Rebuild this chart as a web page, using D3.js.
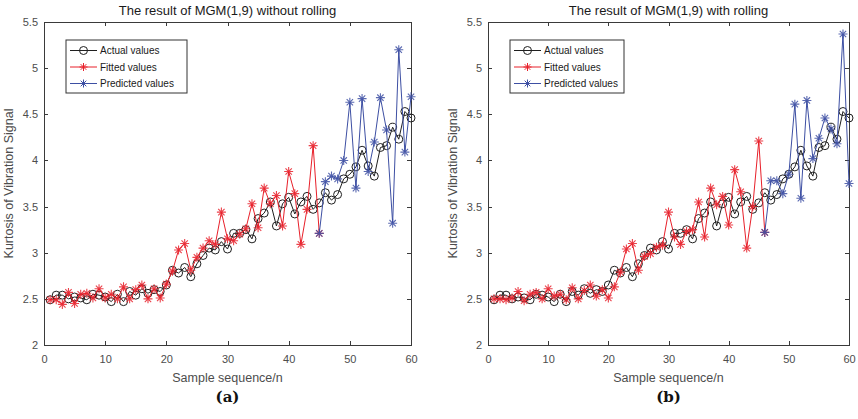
<!DOCTYPE html>
<html>
<head>
<meta charset="utf-8">
<script src="https://cdn.jsdelivr.net/npm/d3@7"></script>
<style>
  body{margin:0;background:#fff;}
  svg text{font-family:"Liberation Sans",Arial,Helvetica,sans-serif;}
  .axis path,.axis line{stroke:#3a3a3a;stroke-width:1;shape-rendering:crispEdges;}
  .axis text{fill:#4d4d4d;font-size:11px;}
  .plot-title{font-size:13px;fill:#1a1a1a;}
  .axis-tag{font-size:12.5px;fill:#4d4d4d;}
  .panel-tag{font-family:"DejaVu Serif",serif !important;font-weight:bold;font-size:15px;fill:#111;}
  .legend-text{font-size:10px;fill:#1a1a1a;}
</style>
</head>
<body>
<div id="chart"></div>
<script>
// sample sequence n
let samples = [1,2,3,4,5,6,7,8,9,10,11,12,13,14,15,16,17,18,19,20,
  21,22,23,24,25,26,27,28,29,30,31,32,33,34,35,36,37,38,39,40,
  41,42,43,44,45,46,47,48,49,50,51,52,53,54,55,56,57,58,59,60];

// measured kurtosis (same in both plots)
let actualValues = [2.49,2.54,2.54,2.50,2.52,2.51,2.49,2.55,2.54,2.52,
  2.47,2.55,2.47,2.58,2.54,2.61,2.56,2.60,2.58,2.65,
  2.81,2.78,2.84,2.74,2.88,2.97,3.05,3.03,3.12,3.04,
  3.21,3.21,3.25,3.15,3.37,3.43,3.55,3.29,3.53,3.60,
  3.42,3.55,3.61,3.47,3.54,3.65,3.57,3.63,3.80,3.85,
  3.93,4.11,3.94,3.83,4.14,4.16,4.36,4.23,4.53,4.46];

// (a) without rolling: fitted n=1..45, predicted n=45..60
let fittedA = [2.49,2.49,2.44,2.57,2.45,2.55,2.56,2.51,2.61,2.51,
  2.55,2.50,2.63,2.50,2.60,2.65,2.50,2.61,2.51,2.66,
  2.80,3.03,3.10,2.81,2.95,3.05,3.13,3.09,3.44,3.15,
  3.13,3.20,3.26,3.53,3.27,3.70,3.53,3.62,3.29,3.88,
  3.64,3.09,3.47,4.16,3.21];
let predictedA = [3.21,3.77,3.83,3.80,4.00,4.63,3.70,4.67,3.88,4.20,4.68,4.33,3.32,5.20,4.09,4.69];

// (b) with rolling: fitted n=1..46, predicted n=46..60
let fittedB = [2.50,2.50,2.49,2.51,2.58,2.48,2.55,2.57,2.50,2.61,
  2.53,2.55,2.49,2.62,2.50,2.59,2.65,2.53,2.60,2.51,
  2.63,2.79,3.04,3.10,2.81,2.96,2.99,3.06,3.08,3.44,
  3.17,3.09,3.23,3.25,3.55,3.17,3.70,3.52,3.61,3.30,
  3.90,3.66,3.05,3.50,4.21,3.22];
let predictedB = [3.22,3.78,3.78,3.64,3.85,4.61,3.59,4.65,4.02,4.24,4.46,4.34,4.18,5.37,3.75];

let xTicks = [0,10,20,30,40,50,60];
let yTicks = [2,2.5,3,3.5,4,4.5,5,5.5];
let legendNames = ["Actual values","Fitted values","Predicted values"];
let plotTitles = ["The result of MGM(1,9) without rolling","The result of MGM(1,9) with rolling"];
let panelTags = ["(a)","(b)"];

const colActual = "#1f1f1f", colFit = "#e8202a", colPred = "#3d4fa3";

// matlab style '*' marker: plus + cross
const asterisk = {
  draw(ctx, size){
    let r = Math.sqrt(size)/2, d = r*0.7071;
    ctx.moveTo(-r,0); ctx.lineTo(r,0);
    ctx.moveTo(0,-r); ctx.lineTo(0,r);
    ctx.moveTo(-d,-d); ctx.lineTo(d,d);
    ctx.moveTo(-d,d); ctx.lineTo(d,-d);
  }
};

let total_width = 858, total_height = 419;
let svg = d3.select("#chart").append("svg")
  .attr("width", total_width)
  .attr("height", total_height);

function drawSeries(g, x, y, xs, ys, color, marker){
  let pts = xs.map((v,i)=>[v, ys[i]]);
  g.append("path").datum(pts)
    .attr("fill","none").attr("stroke",color).attr("stroke-width",1)
    .attr("d", d3.line().x(d=>x(d[0])).y(d=>y(d[1])));
  if(marker=="circle"){
    g.append("g").selectAll("circle").data(pts).enter().append("circle")
      .attr("cx", d=>x(d[0])).attr("cy", d=>y(d[1])).attr("r",4)
      .attr("fill","none").attr("stroke",color).attr("stroke-width",1);
  } else {
    g.append("g").selectAll("path").data(pts).enter().append("path")
      .attr("transform", d=>"translate("+x(d[0])+","+y(d[1])+")")
      .attr("d", d3.symbol().type(asterisk).size(81))
      .attr("fill","none").attr("stroke",color).attr("stroke-width",1.1).attr("stroke-opacity",0.85);
  }
}

function drawPanel(p){
  let x = d3.scaleLinear().domain([0,60]).range([p.left, p.right]);
  let y = d3.scaleLinear().domain([2,5.5]).range([p.bottom, p.top]);
  let g = svg.append("g");

  // axes, ticks pointing inward like matlab
  g.append("g").attr("class","axis")
    .attr("transform","translate(0,"+p.bottom+")")
    .call(d3.axisBottom(x).tickValues(xTicks).tickSize(-4).tickSizeOuter(0).tickPadding(10).tickFormat(d=>d));
  g.append("g").attr("class","axis")
    .attr("transform","translate(0,"+p.top+")")
    .call(d3.axisTop(x).tickValues(xTicks).tickSize(-4).tickSizeOuter(0).tickFormat(""));
  g.append("g").attr("class","axis")
    .attr("transform","translate("+p.left+",0)")
    .call(d3.axisLeft(y).tickValues(yTicks).tickSize(-4).tickSizeOuter(0).tickPadding(6).tickFormat(d=>d));
  g.append("g").attr("class","axis")
    .attr("transform","translate("+p.right+",0)")
    .call(d3.axisRight(y).tickValues(yTicks).tickSize(-4).tickSizeOuter(0).tickFormat(""));
  g.selectAll(".axis text").attr("fill","#4d4d4d");

  let nFit = p.fitted.length;
  drawSeries(g, x, y, samples, actualValues, colActual, "circle");
  drawSeries(g, x, y, samples.slice(0,nFit), p.fitted, colFit, "star");
  drawSeries(g, x, y, samples.slice(nFit-1), p.predicted, colPred, "star");

  // legend
  let lg = g.append("g").attr("transform","translate("+(p.left+22)+","+(p.top+18)+")");
  lg.append("rect").attr("width",p.legendW).attr("height",53)
    .attr("fill","#fff").attr("stroke","#333").attr("stroke-width",1);
  let cols = [colActual,colFit,colPred];
  legendNames.forEach((name,i)=>{
    let ly = 10.5 + i*16.5;
    lg.append("line").attr("x1",4).attr("x2",31).attr("y1",ly).attr("y2",ly)
      .attr("stroke",cols[i]).attr("stroke-width",1);
    if(i==0){
      lg.append("circle").attr("cx",17.5).attr("cy",ly).attr("r",4)
        .attr("fill","none").attr("stroke",cols[i]);
    } else {
      lg.append("path").attr("transform","translate(17.5,"+ly+")")
        .attr("d", d3.symbol().type(asterisk).size(64))
        .attr("fill","none").attr("stroke",cols[i]);
    }
    lg.append("text").attr("class","legend-text").attr("x",34).attr("y",ly).attr("dy","0.35em").text(name);
  });

  let cx = (p.left+p.right)/2;
  g.append("text").attr("class","plot-title").attr("x",cx).attr("y",p.top-7)
    .attr("text-anchor","middle").text(p.title);
  g.append("text").attr("class","axis-tag").attr("x",cx).attr("y",p.bottom+37)
    .attr("text-anchor","middle").text("Sample sequence/n");
  g.append("text").attr("class","axis-tag")
    .attr("transform","translate("+(p.left-31)+","+((p.top+p.bottom)/2)+") rotate(-90)")
    .attr("text-anchor","middle").text("Kurtosis of Vibration Signal");
  g.append("text").attr("class","panel-tag").attr("x",cx).attr("y",p.bottom+57)
    .attr("text-anchor","middle").text(p.tag);
}

drawPanel({left:44, right:411, top:22, bottom:345, fitted:fittedA, predicted:predictedA,
  title:plotTitles[0], tag:panelTags[0], legendW:121});
drawPanel({left:488, right:849, top:22, bottom:345, fitted:fittedB, predicted:predictedB,
  title:plotTitles[1], tag:panelTags[1], legendW:114});
console.log("done");
</script>
</body>
</html>
